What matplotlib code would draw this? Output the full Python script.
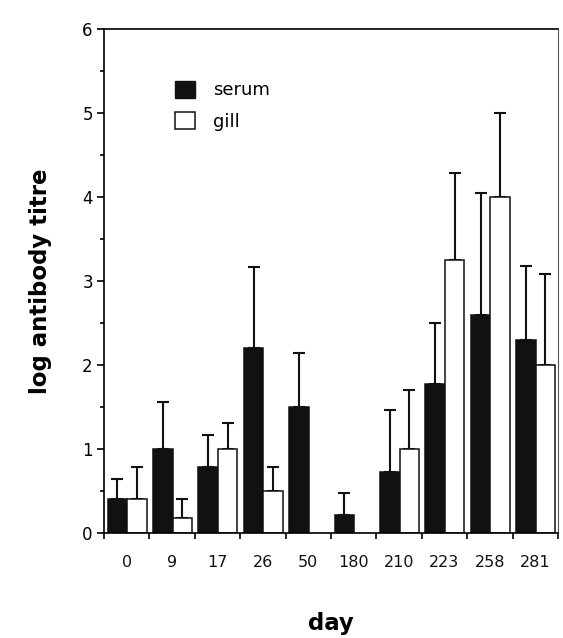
import numpy as np
import matplotlib
matplotlib.use("Agg")
import matplotlib.pyplot as plt
from matplotlib.patches import Patch
from matplotlib.ticker import MultipleLocator, FixedLocator

# 数据：各采样日的血清 / 鳃抗体滴度 (均值, 上误差)
days = ["0", "9", "17", "26", "50", "180", "210", "223", "258", "281"]
serum = [0.40, 1.00, 0.78, 2.20, 1.50, 0.22, 0.73, 1.77, 2.60, 2.30]
serum_err = [0.24, 0.56, 0.39, 0.97, 0.64, 0.26, 0.74, 0.73, 1.45, 0.88]
gill = [0.40, 0.18, 1.00, 0.50, np.nan, np.nan, 1.00, 3.25, 4.00, 2.00]
gill_err = [0.39, 0.23, 0.31, 0.29, np.nan, np.nan, 0.70, 1.03, 1.00, 1.08]

x = np.arange(len(days))
w = 0.43

fig = plt.figure(figsize=(5.63, 6.38), dpi=100)
ax = fig.add_axes([0.1847, 0.1646, 0.8063, 0.7899])

# 柱子
ax.bar(x - 0.205, serum, w, color="#111111", edgecolor="#111111", linewidth=1.1, zorder=2)
ax.bar(x + 0.225, gill, w, color="white", edgecolor="#111111", linewidth=1.1, zorder=2)

# 只画向上的误差线
ax.errorbar(x - 0.205, serum, yerr=[np.zeros(len(x)), serum_err], fmt="none",
            ecolor="#111111", elinewidth=1.5, capsize=4, capthick=1.5, zorder=1)
ax.errorbar(x + 0.225, gill, yerr=[np.zeros(len(x)), gill_err], fmt="none",
            ecolor="#111111", elinewidth=1.5, capsize=4, capthick=1.5, zorder=1)

ax.set_xlim(-0.5, len(days) - 0.5)
ax.set_ylim(0, 6)

# y 轴刻度
ax.yaxis.set_major_locator(MultipleLocator(1))
ax.yaxis.set_minor_locator(MultipleLocator(0.5))
ax.tick_params(axis="y", which="major", direction="out", length=5, width=1.2,
               labelsize=12, pad=3)
ax.tick_params(axis="y", which="minor", direction="out", length=3, width=1.2)

# x 轴：刻度在分组边界，标签在组中间
ax.xaxis.set_major_locator(FixedLocator(np.arange(len(days) + 1) - 0.5))
ax.xaxis.set_minor_locator(FixedLocator(x))
ax.set_xticklabels([], minor=False)
ax.set_xticklabels(days, minor=True)
ax.tick_params(axis="x", which="major", direction="out", length=4, width=1.2)
ax.tick_params(axis="x", which="minor", length=0, pad=16, labelsize=11.5,
               labelcolor="#111111")

for s in ["left", "bottom", "top"]:
    ax.spines[s].set_linewidth(1.2)
ax.spines["right"].set_linewidth(0.8)
ax.spines["right"].set_color("#555555")

ax.set_ylabel("log antibody titre", fontsize=16.5, fontweight="bold", labelpad=22)
ax.set_xlabel("day", fontsize=16.5, fontweight="bold", labelpad=30)

handles = [Patch(facecolor="#111111", edgecolor="#111111", label="serum"),
           Patch(facecolor="white", edgecolor="#111111", linewidth=1.1, label="gill")]
ax.legend(handles=handles, loc="upper left", bbox_to_anchor=(0.12, 0.93),
          frameon=False, fontsize=13, handlelength=1.1, handleheight=1.1,
          handletextpad=1.0, labelspacing=0.7)

fig.savefig("out.png", dpi=100)
